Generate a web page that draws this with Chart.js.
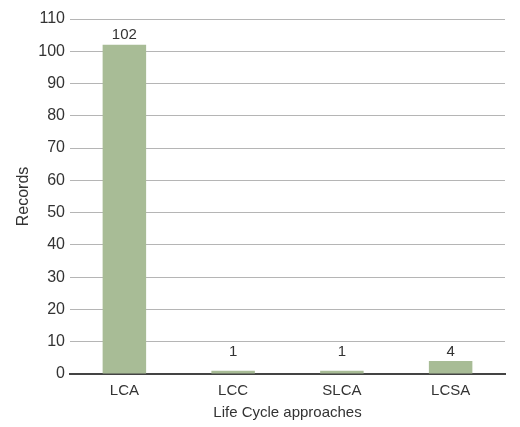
<!DOCTYPE html>
<html>
<head>
<meta charset="utf-8">
<script src="https://cdn.jsdelivr.net/npm/chart.js@4/dist/chart.umd.min.js"></script>
<style>
html,body{margin:0;padding:0;background:#fff;}
#wrap{width:520px;height:427px;}
</style>
</head>
<body>
<div id="wrap"><canvas id="c" width="520" height="427"></canvas></div>
<script>
const categories = ["LCA", "LCC", "SLCA", "LCSA"];
const records = [102, 1, 1, 4];
const yTicks = [0, 10, 20, 30, 40, 50, 60, 70, 80, 90, 100, 110];

const FONT = "'Liberation Sans', Arial, Helvetica, sans-serif";

const valueLabels = {
  id: 'valueLabels',
  afterDatasetsDraw(chart) {
    const ctx = chart.ctx;
    const meta = chart.getDatasetMeta(0);
    const ys = chart.scales.y;
    const minLabelY = ys.getPixelForValue(4);
    ctx.save();
    ctx.fillStyle = '#333';
    ctx.font = '15px ' + FONT;
    ctx.textAlign = 'center';
    ctx.textBaseline = 'bottom';
    meta.data.forEach((bar, i) => {
      const y = Math.min(bar.y, minLabelY);
      ctx.fillText(String(records[i]), bar.x, y - 2);
    });
    ctx.restore();
  }
};

new Chart(document.getElementById('c'), {
  type: 'bar',
  data: {
    labels: categories,
    datasets: [{
      data: records,
      backgroundColor: '#a8bc96',
      borderWidth: 0,
      categoryPercentage: 1.0,
      barPercentage: 0.4
    }]
  },
  options: {
    responsive: false,
    animation: false,
    devicePixelRatio: 1,
    layout: { padding: { left: 14, right: 15, top: 19, bottom: 5 } },
    plugins: { legend: { display: false }, tooltip: { enabled: false } },
    scales: {
      x: {
        grid: { display: false, drawTicks: false },
        border: { display: true, color: '#444', width: 2 },
        ticks: { color: '#333', font: { family: FONT, size: 15 }, padding: 8 },
        title: { display: true, text: 'Life Cycle approaches', color: '#333', font: { family: FONT, size: 15 }, padding: { top: -4, bottom: 0 } }
      },
      y: {
        min: 0, max: 110,
        afterBuildTicks(scale) { scale.ticks = yTicks.map(v => ({ value: v })); },
        afterFit(scale) { scale.width = 56; },
        grid: { color: '#b5b5b5', lineWidth: 1, drawTicks: false },
        border: { display: false },
        ticks: { color: '#333', font: { family: FONT, size: 16 }, padding: 5 },
        title: { display: true, text: 'Records', color: '#333', font: { family: FONT, size: 16 }, padding: { top: 0, bottom: 4 } }
      }
    }
  },
  plugins: [valueLabels]
});
</script>
</body>
</html>
